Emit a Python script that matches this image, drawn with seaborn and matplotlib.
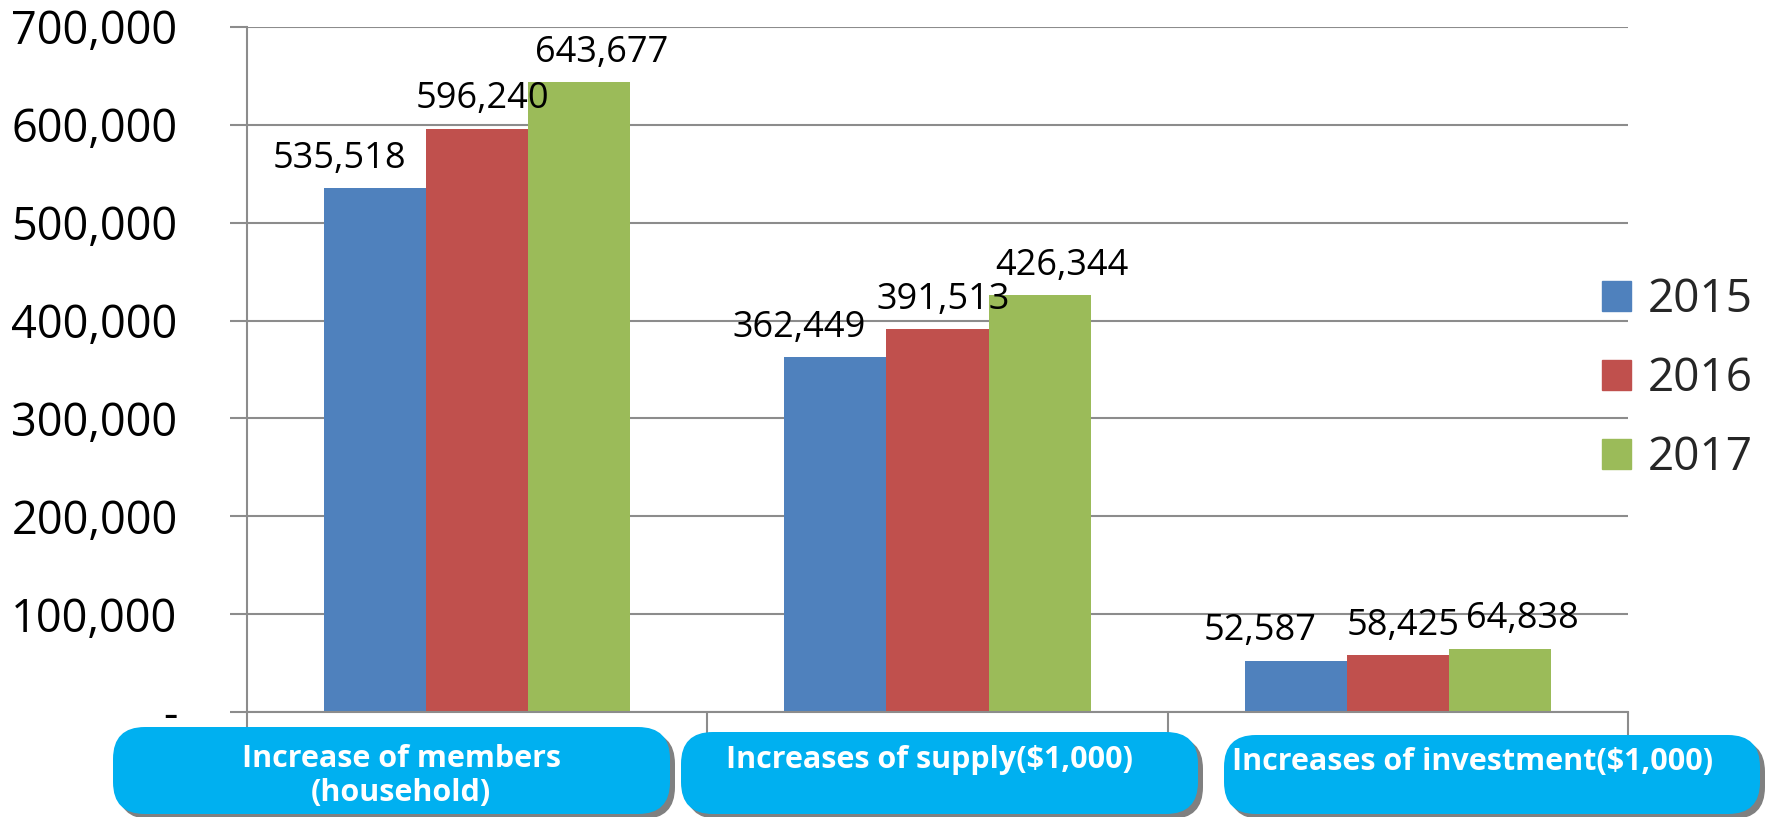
import numpy as np
import pandas as pd
import matplotlib
matplotlib.use("Agg")
import matplotlib.pyplot as plt
import seaborn as sns
from matplotlib.patches import FancyBboxPatch
from matplotlib.ticker import FuncFormatter

# ========== Data ==========
categories = ["Increase of members\n(household)",
              "Increases of supply($1,000)",
              "Increases of investment($1,000)"]
years = ["2015", "2016", "2017"]
values_2015 = [535518, 362449, 52587]
values_2016 = [596240, 391513, 58425]
values_2017 = [643677, 426344, 64838]
colors = ["#4F81BD", "#C0504D", "#9BBB59"]

df = pd.DataFrame({
    "category": categories * 3,
    "year": [y for y in years for _ in categories],
    "value": values_2015 + values_2016 + values_2017,
})

sns.set_theme(style="white")
plt.rcParams["font.family"] = ["Open Sans", "DejaVu Sans"]

fig = plt.figure(figsize=(17.72, 8.17), dpi=100)
ax = fig.add_axes([247 / 1772, 1 - 712 / 817, (1628 - 247) / 1772, (712 - 27) / 817])

sns.barplot(data=df, x="category", y="value", hue="year", palette=colors,
            width=0.665, saturation=1, linewidth=0, ax=ax, legend=False)

# ========== Axis styling ==========
grid_c = "#8C8C8C"
ax.set_ylim(0, 700000)
ax.set_xlim(-0.5, 2.5)
ax.set_yticks(np.arange(0, 700001, 100000))
ax.yaxis.set_major_formatter(FuncFormatter(lambda v, p: "-" if v == 0 else f"{int(v):,}"))
ax.tick_params(axis="y", labelsize=32.5, length=12, width=1.5, color=grid_c, pad=38,
               left=True, labelcolor="black")
ax.yaxis.grid(True, color=grid_c, linewidth=1.5)
ax.set_axisbelow(True)
ax.set_xlabel("")
ax.set_ylabel("")
ax.set_xticks([])
ax.set_xticks([-0.5, 0.5, 1.5, 2.5], minor=True)
ax.tick_params(axis="x", which="minor", bottom=True, length=17, width=1.5, color=grid_c)
for s in ["top", "right"]:
    ax.spines[s].set_visible(False)
for s in ["left", "bottom"]:
    ax.spines[s].set_color(grid_c)
    ax.spines[s].set_linewidth(1.5)

# ========== Value labels ==========
dx_pts = [-26, 4, 16]
for cont, dx in zip(ax.containers, dx_pts):
    texts = ax.bar_label(cont, labels=[f"{int(b.get_height()):,}" for b in cont],
                         padding=10, fontsize=26, color="black")
    for t in texts:
        t.xyann = (dx, 8)

# ========== Legend ==========
handles = [plt.Rectangle((0, 0), 1, 1, color=c) for c in colors]
fig.legend(handles, years, loc="center left", bbox_to_anchor=(1602 / 1772, 1 - 379 / 817),
           frameon=False, fontsize=33, handlelength=0.64, handleheight=0.64,
           handletextpad=0.35, labelspacing=0.72, borderpad=0, borderaxespad=0)

# ========== Category boxes ==========
W, H = 1772, 817
boxes = [(113, 727, 670, 814), (681, 732, 1198, 814), (1224, 735, 1760, 814)]
text_pos = [(401, 776), (929, 760), (1473, 762)]
for (x0, y0, x1, y1), (tx, ty), lab in zip(boxes, text_pos, categories):
    for off, fc in [((5, -5), "#808080"), ((0, 0), "#00B0F0")]:
        p = FancyBboxPatch(((x0 + off[0]) / W, 1 - (y1 - off[1]) / H),
                           (x1 - x0) / W, (y1 - y0) / H,
                           boxstyle="round,pad=0,rounding_size=0.018",
                           transform=fig.transFigure, facecolor=fc, edgecolor="none",
                           mutation_aspect=W / H)
        fig.add_artist(p)
    fig.text(tx / W, 1 - ty / H, lab, ha="center", va="center", color="white",
             fontsize=22, fontweight="bold", linespacing=1.2)

fig.savefig("out.png", dpi=100)
